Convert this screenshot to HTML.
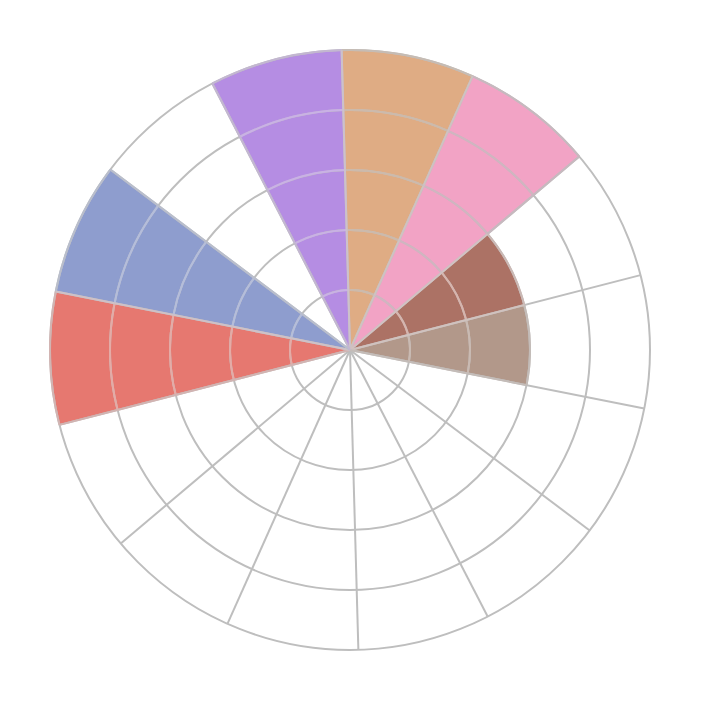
<!DOCTYPE html>
<html lang="en">
<head>
<meta charset="utf-8">
<title>Polar bar chart</title>
<style>
html,body{margin:0;padding:0;background:#fff;}
body{width:701px;height:701px;overflow:hidden;}
svg{display:block;}
</style>
</head>
<body>
<svg width="701" height="701" viewBox="0 0 701 701">
<rect width="701" height="701" fill="#ffffff"/>
<g id="bars" stroke="none">
<path d="M350.00,350.00 L341.62,50.12 A300,300 0 0 1 472.57,76.18 Z" fill="#DFAC84"/>
<path d="M350.00,350.00 L472.57,76.18 A300,300 0 0 1 579.24,156.48 Z" fill="#F2A3C5"/>
<path d="M350.00,350.00 L487.54,233.89 A180,180 0 0 1 524.30,305.06 Z" fill="#AC7265"/>
<path d="M350.00,350.00 L524.30,305.06 A180,180 0 0 1 526.54,385.14 Z" fill="#B2988A"/>
<path d="M350.00,350.00 L59.50,424.90 A300,300 0 0 1 55.77,291.44 Z" fill="#E67870"/>
<path d="M350.00,350.00 L55.77,291.44 A300,300 0 0 1 110.32,169.57 Z" fill="#8E9DCE"/>
<path d="M350.00,350.00 L212.34,83.45 A300,300 0 0 1 341.62,50.12 Z" fill="#B58DE3"/>
</g>
<g id="grid" fill="none" stroke="#bebebe" stroke-width="2">
<circle cx="350.0" cy="350.0" r="60"/>
<circle cx="350.0" cy="350.0" r="120"/>
<circle cx="350.0" cy="350.0" r="180"/>
<circle cx="350.0" cy="350.0" r="240"/>
<circle cx="350.0" cy="350.0" r="300"/>
<line x1="350.0" y1="350.0" x2="341.62" y2="50.12"/>
<line x1="350.0" y1="350.0" x2="472.57" y2="76.18"/>
<line x1="350.0" y1="350.0" x2="579.24" y2="156.48"/>
<line x1="350.0" y1="350.0" x2="640.50" y2="275.10"/>
<line x1="350.0" y1="350.0" x2="644.23" y2="408.56"/>
<line x1="350.0" y1="350.0" x2="589.68" y2="530.43"/>
<line x1="350.0" y1="350.0" x2="487.66" y2="616.55"/>
<line x1="350.0" y1="350.0" x2="358.38" y2="649.88"/>
<line x1="350.0" y1="350.0" x2="227.43" y2="623.82"/>
<line x1="350.0" y1="350.0" x2="120.76" y2="543.52"/>
<line x1="350.0" y1="350.0" x2="59.50" y2="424.90"/>
<line x1="350.0" y1="350.0" x2="55.77" y2="291.44"/>
<line x1="350.0" y1="350.0" x2="110.32" y2="169.57"/>
<line x1="350.0" y1="350.0" x2="212.34" y2="83.45"/>
</g>
<g id="tinted" fill="none" stroke-width="2" stroke-linecap="butt">
<path d="M348.32,290.02 A60,60 0 0 1 374.51,295.24" stroke="#cdbaab"/>
<path d="M346.65,230.05 A120,120 0 0 1 399.03,240.47" stroke="#cdbaab"/>
<path d="M344.97,170.07 A180,180 0 0 1 423.54,185.71" stroke="#cdbaab"/>
<path d="M343.30,110.09 A240,240 0 0 1 448.05,130.94" stroke="#cdbaab"/>
<path d="M341.62,50.12 A300,300 0 0 1 472.57,76.18" stroke="#c6bcb4"/>
<path d="M374.51,295.24 A60,60 0 0 1 395.85,311.30" stroke="#d0b5c0"/>
<path d="M399.03,240.47 A120,120 0 0 1 441.69,272.59" stroke="#d0b5c0"/>
<path d="M423.54,185.71 A180,180 0 0 1 487.54,233.89" stroke="#d0b5c0"/>
<path d="M448.05,130.94 A240,240 0 0 1 533.39,195.18" stroke="#d0b5c0"/>
<path d="M472.57,76.18 A300,300 0 0 1 579.24,156.48" stroke="#c7b9bf"/>
<path d="M395.85,311.30 A60,60 0 0 1 408.10,335.02" stroke="#d7b4ad"/>
<path d="M441.69,272.59 A120,120 0 0 1 466.20,320.04" stroke="#d7b4ad"/>
<path d="M487.54,233.89 A180,180 0 0 1 524.30,305.06" stroke="#cbb9b5"/>
<path d="M408.10,335.02 A60,60 0 0 1 408.85,361.71" stroke="#cabab2"/>
<path d="M466.20,320.04 A120,120 0 0 1 467.69,373.43" stroke="#cabab2"/>
<path d="M524.30,305.06 A180,180 0 0 1 526.54,385.14" stroke="#c4bcb8"/>
<path d="M291.90,364.98 A60,60 0 0 1 291.15,338.29" stroke="#e5aba6"/>
<path d="M233.80,379.96 A120,120 0 0 1 232.31,326.57" stroke="#e5aba6"/>
<path d="M175.70,394.94 A180,180 0 0 1 173.46,314.86" stroke="#e5aba6"/>
<path d="M117.60,409.92 A240,240 0 0 1 114.62,303.15" stroke="#e5aba6"/>
<path d="M59.50,424.90 A300,300 0 0 1 55.77,291.44" stroke="#d2b4b2"/>
<path d="M291.15,338.29 A60,60 0 0 1 302.06,313.91" stroke="#b4bddb"/>
<path d="M232.31,326.57 A120,120 0 0 1 254.13,277.83" stroke="#b4bddb"/>
<path d="M173.46,314.86 A180,180 0 0 1 206.19,241.74" stroke="#b4bddb"/>
<path d="M114.62,303.15 A240,240 0 0 1 158.26,205.66" stroke="#b4bddb"/>
<path d="M55.77,291.44 A300,300 0 0 1 110.32,169.57" stroke="#b9becc"/>
<path d="M322.47,296.69 A60,60 0 0 1 348.32,290.02" stroke="#c9b1e5"/>
<path d="M294.94,243.38 A120,120 0 0 1 346.65,230.05" stroke="#c9b1e5"/>
<path d="M267.40,190.07 A180,180 0 0 1 344.97,170.07" stroke="#c9b1e5"/>
<path d="M239.87,136.76 A240,240 0 0 1 343.30,110.09" stroke="#c9b1e5"/>
<path d="M212.34,83.45 A300,300 0 0 1 341.62,50.12" stroke="#c3b7d1"/>
<line x1="350.00" y1="350.00" x2="348.32" y2="290.02" stroke="#cdc1cb"/>
<line x1="348.32" y1="290.02" x2="346.65" y2="230.05" stroke="#cdc1cb"/>
<line x1="346.65" y1="230.05" x2="344.97" y2="170.07" stroke="#cdc1cb"/>
<line x1="344.97" y1="170.07" x2="343.30" y2="110.09" stroke="#cdc1cb"/>
<line x1="343.30" y1="110.09" x2="341.62" y2="50.12" stroke="#cdc1cb"/>
<line x1="350.00" y1="350.00" x2="374.51" y2="295.24" stroke="#cfc2c1"/>
<line x1="374.51" y1="295.24" x2="399.03" y2="240.47" stroke="#cfc2c1"/>
<line x1="399.03" y1="240.47" x2="423.54" y2="185.71" stroke="#cfc2c1"/>
<line x1="423.54" y1="185.71" x2="448.05" y2="130.94" stroke="#cfc2c1"/>
<line x1="448.05" y1="130.94" x2="472.57" y2="76.18" stroke="#cfc2c1"/>
<line x1="350.00" y1="350.00" x2="395.85" y2="311.30" stroke="#d2c1c2"/>
<line x1="395.85" y1="311.30" x2="441.69" y2="272.59" stroke="#d2c1c2"/>
<line x1="441.69" y1="272.59" x2="487.54" y2="233.89" stroke="#d2c1c2"/>
<line x1="487.54" y1="233.89" x2="533.39" y2="195.18" stroke="#c7b9bf"/>
<line x1="533.39" y1="195.18" x2="579.24" y2="156.48" stroke="#c7b9bf"/>
<line x1="350.00" y1="350.00" x2="408.10" y2="335.02" stroke="#d0c2be"/>
<line x1="408.10" y1="335.02" x2="466.20" y2="320.04" stroke="#d0c2be"/>
<line x1="466.20" y1="320.04" x2="524.30" y2="305.06" stroke="#d0c2be"/>
<line x1="350.00" y1="350.00" x2="408.85" y2="361.71" stroke="#c4bcb8"/>
<line x1="408.85" y1="361.71" x2="467.69" y2="373.43" stroke="#c4bcb8"/>
<line x1="467.69" y1="373.43" x2="526.54" y2="385.14" stroke="#c4bcb8"/>
<line x1="350.00" y1="350.00" x2="291.90" y2="364.98" stroke="#d2b4b2"/>
<line x1="291.90" y1="364.98" x2="233.80" y2="379.96" stroke="#d2b4b2"/>
<line x1="233.80" y1="379.96" x2="175.70" y2="394.94" stroke="#d2b4b2"/>
<line x1="175.70" y1="394.94" x2="117.60" y2="409.92" stroke="#d2b4b2"/>
<line x1="117.60" y1="409.92" x2="59.50" y2="424.90" stroke="#d2b4b2"/>
<line x1="350.00" y1="350.00" x2="291.15" y2="338.29" stroke="#cec1c7"/>
<line x1="291.15" y1="338.29" x2="232.31" y2="326.57" stroke="#cec1c7"/>
<line x1="232.31" y1="326.57" x2="173.46" y2="314.86" stroke="#cec1c7"/>
<line x1="173.46" y1="314.86" x2="114.62" y2="303.15" stroke="#cec1c7"/>
<line x1="114.62" y1="303.15" x2="55.77" y2="291.44" stroke="#cec1c7"/>
<line x1="350.00" y1="350.00" x2="302.06" y2="313.91" stroke="#b9becc"/>
<line x1="302.06" y1="313.91" x2="254.13" y2="277.83" stroke="#b9becc"/>
<line x1="254.13" y1="277.83" x2="206.19" y2="241.74" stroke="#b9becc"/>
<line x1="206.19" y1="241.74" x2="158.26" y2="205.66" stroke="#b9becc"/>
<line x1="158.26" y1="205.66" x2="110.32" y2="169.57" stroke="#b9becc"/>
<line x1="350.00" y1="350.00" x2="322.47" y2="296.69" stroke="#c3b7d1"/>
<line x1="322.47" y1="296.69" x2="294.94" y2="243.38" stroke="#c3b7d1"/>
<line x1="294.94" y1="243.38" x2="267.40" y2="190.07" stroke="#c3b7d1"/>
<line x1="267.40" y1="190.07" x2="239.87" y2="136.76" stroke="#c3b7d1"/>
<line x1="239.87" y1="136.76" x2="212.34" y2="83.45" stroke="#c3b7d1"/>
</g>
</svg>
</body>
</html>
